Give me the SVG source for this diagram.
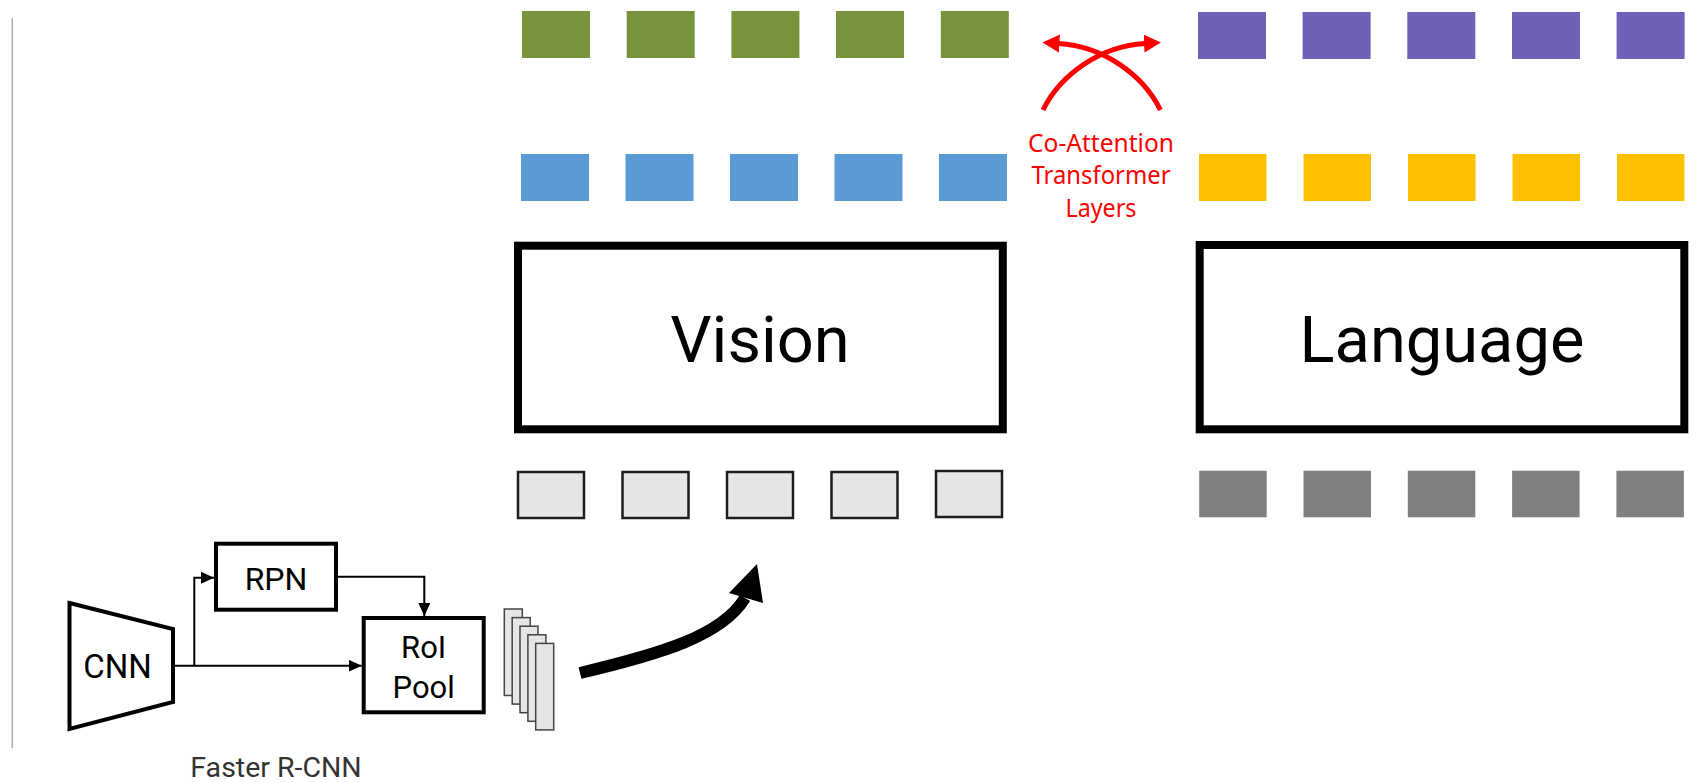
<svg xmlns="http://www.w3.org/2000/svg" width="1701" height="782" viewBox="0 0 1701 782">
<style>
.sq{stroke:none}
.g{fill:#77933C}
.b{fill:#5B9BD5}
.p{fill:#6E61B8}
.y{fill:#FFC000}
.dg{fill:#808080}
.lg{fill:#E6E6E6;stroke:#1e1e1e;stroke-width:2.5}
.big{fill:#fff;stroke:#000;stroke-width:8}
.blk{fill:#fff;stroke:#000;stroke-width:4}
.page{fill:#E6E6E6;stroke:#444;stroke-width:1.5}
.t{font-family:Roboto,"Liberation Sans",sans-serif;fill:#000;text-anchor:middle}
.red{font-family:"Noto Sans","Open Sans",sans-serif;fill:#FF0000;text-anchor:middle;font-size:25px}
.conn{fill:none;stroke:#000;stroke-width:2}
.redc{fill:none;stroke:#FF0000;stroke-width:5}
</style>
<defs>
<marker id="ah" markerWidth="14" markerHeight="14" refX="13" refY="6" orient="auto" markerUnits="userSpaceOnUse">
<path d="M0,0 L13,6 L0,12 z" fill="#000"/>
</marker>
<marker id="rh" markerWidth="20" markerHeight="20" refX="1" refY="9" orient="auto" markerUnits="userSpaceOnUse">
<path d="M0,0 L17,9 L0,18 z" fill="#FF0000"/>
</marker>
</defs>
<rect width="1701" height="782" fill="#fff"/>
<line x1="12.3" y1="18" x2="12.3" y2="748" stroke="#aaaaaa" stroke-width="1.5"/>

<g id="vision-output">
<rect class="sq g" x="522" y="11" width="68" height="47"/>
<rect class="sq g" x="626.7" y="11" width="68" height="47"/>
<rect class="sq g" x="731.4" y="11" width="68" height="47"/>
<rect class="sq g" x="836" y="11" width="68" height="47"/>
<rect class="sq g" x="940.8" y="11" width="68" height="47"/>
</g>
<g id="vision-hidden">
<rect class="sq b" x="521" y="154" width="68" height="47"/>
<rect class="sq b" x="625.5" y="154" width="68" height="47"/>
<rect class="sq b" x="730" y="154" width="68" height="47"/>
<rect class="sq b" x="834.5" y="154" width="68" height="47"/>
<rect class="sq b" x="939" y="154" width="68" height="47"/>
</g>
<g id="language-output">
<rect class="sq p" x="1198" y="12" width="68" height="47"/>
<rect class="sq p" x="1302.6" y="12" width="68" height="47"/>
<rect class="sq p" x="1407.3" y="12" width="68" height="47"/>
<rect class="sq p" x="1512" y="12" width="68" height="47"/>
<rect class="sq p" x="1616.6" y="12" width="68" height="47"/>
</g>
<g id="language-hidden">
<rect class="sq y" x="1199" y="154" width="67.5" height="47"/>
<rect class="sq y" x="1303.5" y="154" width="67.5" height="47"/>
<rect class="sq y" x="1408" y="154" width="67.5" height="47"/>
<rect class="sq y" x="1512.5" y="154" width="67.5" height="47"/>
<rect class="sq y" x="1617" y="154" width="67.5" height="47"/>
</g>

<g id="vision">
<rect class="big" x="518" y="245.7" width="484.8" height="183.6"/>
<text class="t" x="760" y="361.7" font-size="65">Vision</text>
</g>
<g id="language">
<rect class="big" x="1199.7" y="245" width="484.6" height="184.3"/>
<text class="t" x="1442" y="361.7" font-size="65">Language</text>
</g>

<g id="vision-input">
<rect class="lg" x="518" y="472" width="66" height="46"/>
<rect class="lg" x="622.5" y="472" width="66" height="46"/>
<rect class="lg" x="727" y="472" width="66" height="46"/>
<rect class="lg" x="831.5" y="472" width="66" height="46"/>
<rect class="lg" x="936" y="471" width="66" height="46"/>
</g>
<g id="language-input">
<rect class="sq dg" x="1199.2" y="470.7" width="67.5" height="46.6"/>
<rect class="sq dg" x="1303.5" y="470.7" width="67.5" height="46.6"/>
<rect class="sq dg" x="1407.8" y="470.7" width="67.5" height="46.6"/>
<rect class="sq dg" x="1512.1" y="470.7" width="67.5" height="46.6"/>
<rect class="sq dg" x="1616.4" y="470.7" width="67.5" height="46.6"/>
</g>

<g id="co-attention">
<text class="red" x="1101" y="151.5" textLength="146" lengthAdjust="spacingAndGlyphs">Co-Attention</text>
<text class="red" x="1101" y="184" textLength="139" lengthAdjust="spacingAndGlyphs">Transformer</text>
<text class="red" x="1101" y="216.5" textLength="71" lengthAdjust="spacingAndGlyphs">Layers</text>
</g>

<g id="cnn">
<polygon class="blk" points="69.5,603 173,629 173,702 69.5,729"/>
<text class="t" x="117.5" y="678" font-size="33">CNN</text>
</g>
<g id="rpn">
<rect class="blk" x="216" y="543.7" width="120" height="66"/>
<text class="t" x="276" y="590" font-size="32">RPN</text>
</g>
<g id="roi-pool">
<rect class="blk" x="363.7" y="618" width="120" height="94.3"/>
<text class="t" x="423.7" y="658.3" font-size="31">RoI</text>
<text class="t" x="423.7" y="697.7" font-size="31">Pool</text>
</g>
<g id="features">
<rect class="page" x="504.3" y="609" width="18" height="86.5"/>
<rect class="page" x="512.2" y="617.6" width="18" height="86.5"/>
<rect class="page" x="520" y="626.2" width="18" height="86.5"/>
<rect class="page" x="527.9" y="634.8" width="18" height="86.5"/>
<rect class="page" x="535.7" y="643.4" width="18" height="86.5"/>
</g>
<g id="faster-rcnn-label">
<text x="276" y="777.3" font-family="Roboto,'Liberation Sans',sans-serif" font-size="28.5" fill="#333" text-anchor="middle">Faster R-CNN</text>
</g>

<g id="connectors">
<path class="conn" d="M175,665.7 H361.7" marker-end="url(#ah)"/>
<path class="conn" d="M194.3,665.7 V577.7 H214" marker-end="url(#ah)"/>
<path class="conn" d="M338,576.7 H424.3 V616" marker-end="url(#ah)"/>
<path d="M580,673 C660,654 722,636 745,598" fill="none" stroke="#000" stroke-width="12"/>
<polygon points="757,564 729,593 763,603" fill="#000"/>
<path class="redc" d="M1043,110 C1060,75 1100,46 1145,43.5" marker-end="url(#rh)"/>
<path class="redc" d="M1160.4,110 C1143.4,75 1103.4,46 1058.4,43.5" marker-end="url(#rh)"/>
</g>
</svg>
